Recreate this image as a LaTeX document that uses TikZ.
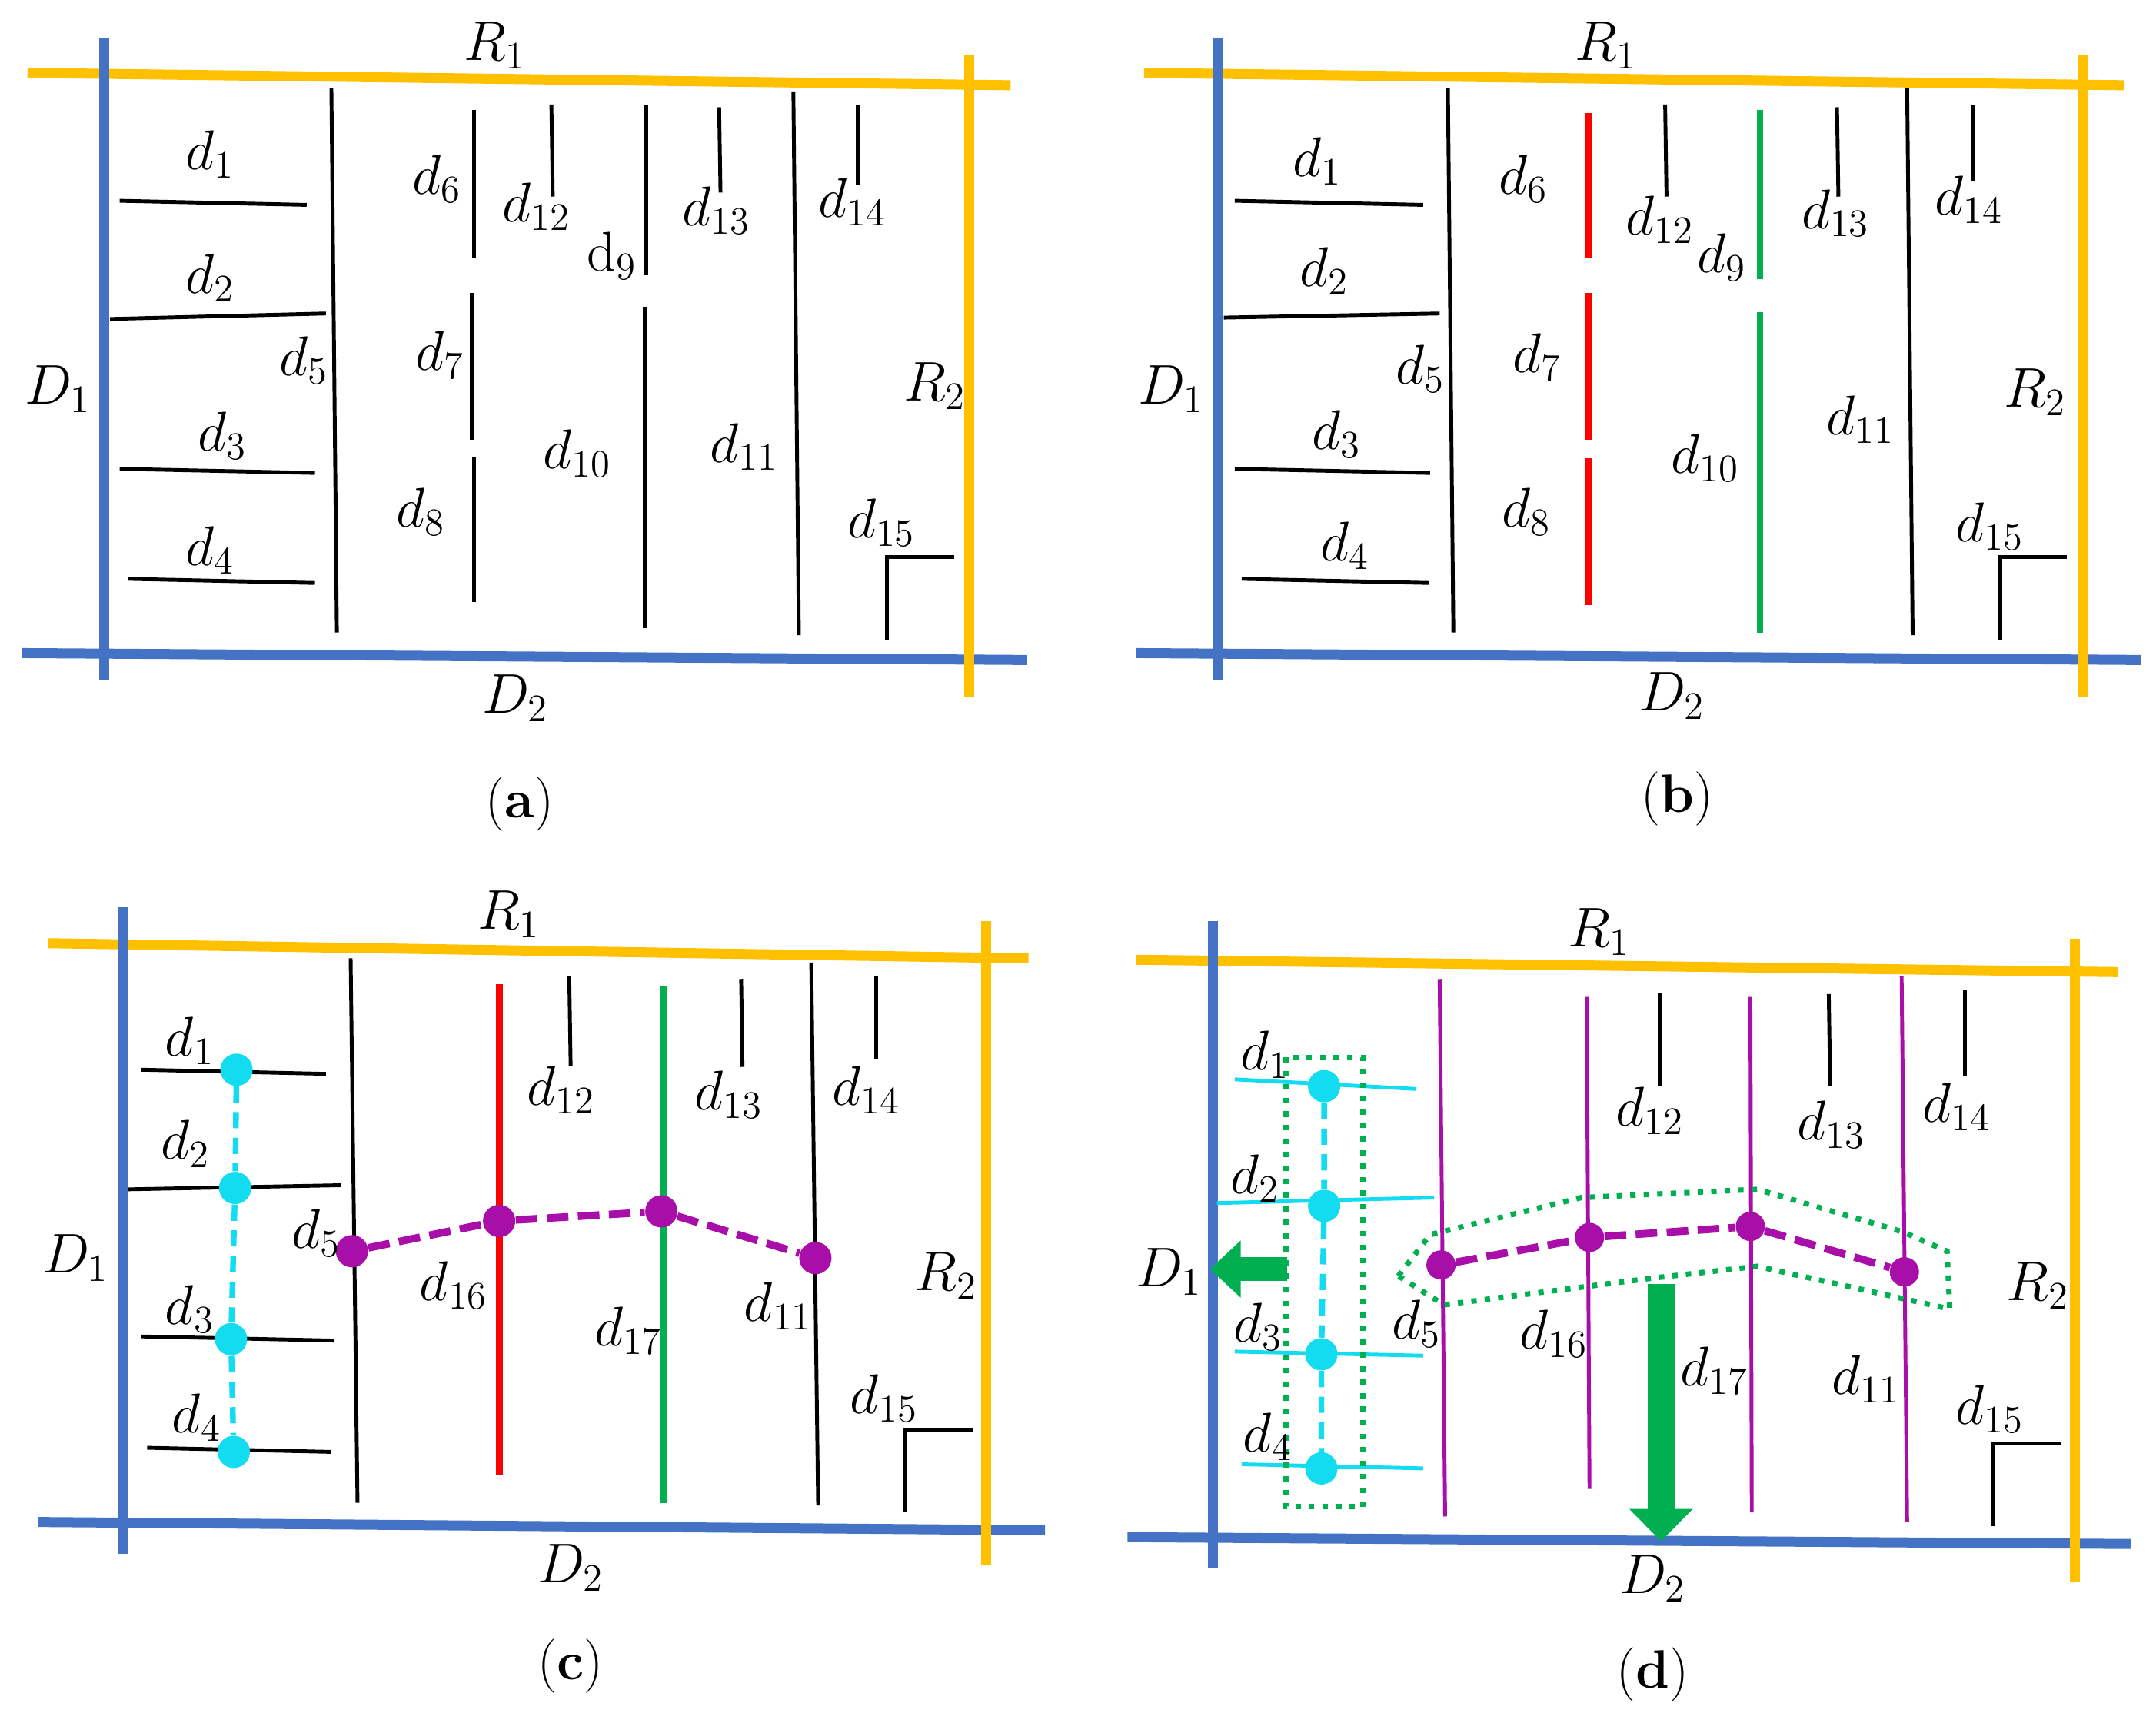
\documentclass[tikz,border=0pt]{standalone}
\usepackage{amsmath, amssymb}
\usepackage{tikz}
\usetikzlibrary{arrows.meta}

\definecolor{wallblue}{HTML}{4472C4}
\definecolor{wallyellow}{HTML}{FFC000}
\definecolor{linered}{HTML}{FF0000}
\definecolor{linegreen}{HTML}{00B050}
\definecolor{dotcyan}{HTML}{14DCF0}
\definecolor{dotpurple}{HTML}{A80EA8}

\begin{document}
\begin{tikzpicture}[
        x=0.017883cm, y=-0.017883cm,
        wallD/.style={draw=wallblue, line width=3.7pt},
        wallR/.style={draw=wallyellow, line width=3.7pt},
        seg/.style={draw=black, line width=1.4pt},
        hiseg/.style={line width=2.5pt},
        thinseg/.style={draw=dotpurple, line width=1.4pt},
        lbl/.style={font=\fontsize{21}{24}\selectfont, inner sep=0pt},
        caption/.style={font=\fontsize{20}{24}\selectfont, inner sep=0pt},
        cdot/.style={circle, fill=dotcyan, minimum size=0.42cm, inner sep=0pt},
        pdot/.style={circle, fill=dotpurple, minimum size=0.42cm, inner sep=0pt},
        cyanlink/.style={draw=dotcyan, line width=2.1pt, dash pattern=on 6pt off 3.5pt},
        purplelink/.style={draw=dotpurple, line width=2.8pt, dash pattern=on 8pt off 3.5pt},
        grouping/.style={draw=linegreen, line width=2pt, dash pattern=on 2pt off 3pt},
        >=Stealth
    ]
        \useasboundingbox (0,0) rectangle (1568,1253);

        % ---------------- Panel (a) ----------------
        \draw[wallR] (20,53) -- (735,62);
        \draw[wallD] (76,28) -- (76,495);
        \draw[wallD] (16,475) -- (747,480);
        \draw[wallR] (705,40) -- (705,507);

        \draw[seg] (87,146) -- (223,149);
        \draw[seg] (80,232) -- (237,228);
        \draw[seg] (87,341) -- (229,344);
        \draw[seg] (93,421) -- (229,424);
        \draw[seg] (241,64) -- (245,460);
        \draw[seg] (345,80) -- (345,188);
        \draw[seg] (343,213) -- (343,320);
        \draw[seg] (345,332) -- (345,438);
        \draw[seg] (401,76) -- (402,143);
        \draw[seg] (470,76) -- (470,200);
        \draw[seg] (469,223) -- (469,457);
        \draw[seg] (523,78) -- (524,140);
        \draw[seg] (577,67) -- (581,462);
        \draw[seg] (624,76) -- (624,135);
        \draw[seg] (645,465) -- (645,405) -- (694,405);

        \node[lbl] (a-R1) at (360,33) {$R_{1}$};
        \node[lbl] (a-D1) at (42,283) {$D_{1}$};
        \node[lbl] (a-D2) at (375,508) {$D_{2}$};
        \node[lbl] (a-R2) at (680,281) {$R_{2}$};
        \node[lbl] (a-d1) at (153,112) {$d_{1}$};
        \node[lbl] (a-d2) at (153,202) {$d_{2}$};
        \node[lbl] (a-d3) at (162,317) {$d_{3}$};
        \node[lbl] (a-d4) at (153,400) {$d_{4}$};
        \node[lbl] (a-d5) at (221,262) {$d_{5}$};
        \node[lbl] (a-d6) at (318,130) {$d_{6}$};
        \node[lbl] (a-d7) at (320,258) {$d_{7}$};
        \node[lbl] (a-d8) at (306,372) {$d_{8}$};
        \node[lbl] (a-d12) at (390,150) {$d_{12}$};
        \node[lbl] (a-d9) at (445,186) {$\mathrm{d}_{9}$};
        \node[lbl] (a-d10) at (420,330) {$d_{10}$};
        \node[lbl] (a-d13) at (521,153) {$d_{13}$};
        \node[lbl] (a-d11) at (541,325) {$d_{11}$};
        \node[lbl] (a-d14) at (620,147) {$d_{14}$};
        \node[lbl] (a-d15) at (641,380) {$d_{15}$};
        \node[caption] (a-cap) at (378,585) {(\textbf{a})};

        % ---------------- Panel (b) ----------------
        \draw[wallR] (832,53) -- (1545,62);
        \draw[wallD] (886,28) -- (886,495);
        \draw[wallD] (826,475) -- (1557,480);
        \draw[wallR] (1515,40) -- (1515,507);

        \draw[seg] (898,146) -- (1035,149);
        \draw[seg] (890,231) -- (1047,228);
        \draw[seg] (898,341) -- (1040,344);
        \draw[seg] (903,421) -- (1039,424);
        \draw[seg] (1053,64) -- (1057,460);
        \draw[seg, hiseg, draw=linered] (1155,82) -- (1155,188);
        \draw[seg, hiseg, draw=linered] (1155,213) -- (1155,320);
        \draw[seg, hiseg, draw=linered] (1155,333) -- (1155,440);
        \draw[seg] (1211,76) -- (1212,143);
        \draw[seg, hiseg, draw=linegreen] (1280,80) -- (1280,203);
        \draw[seg, hiseg, draw=linegreen] (1280,227) -- (1280,460);
        \draw[seg] (1336,78) -- (1337,143);
        \draw[seg] (1387,64) -- (1391,462);
        \draw[seg] (1435,76) -- (1435,132);
        \draw[seg] (1455,465) -- (1455,405) -- (1503,405);

        \node[lbl] (b-R1) at (1168,33) {$R_{1}$};
        \node[lbl] (b-D1) at (852,283) {$D_{1}$};
        \node[lbl] (b-D2) at (1216,506) {$D_{2}$};
        \node[lbl] (b-R2) at (1480,285) {$R_{2}$};
        \node[lbl] (b-d1) at (958,117) {$d_{1}$};
        \node[lbl] (b-d2) at (963,197) {$d_{2}$};
        \node[lbl] (b-d3) at (972,316) {$d_{3}$};
        \node[lbl] (b-d4) at (978,397) {$d_{4}$};
        \node[lbl] (b-d5) at (1033,268) {$d_{5}$};
        \node[lbl] (b-d6) at (1108,130) {$d_{6}$};
        \node[lbl] (b-d7) at (1118,260) {$d_{7}$};
        \node[lbl] (b-d8) at (1110,372) {$d_{8}$};
        \node[lbl] (b-d12) at (1207,160) {$d_{12}$};
        \node[lbl] (b-d9) at (1252,187) {$d_{9}$};
        \node[lbl] (b-d10) at (1240,333) {$d_{10}$};
        \node[lbl] (b-d13) at (1335,155) {$d_{13}$};
        \node[lbl] (b-d11) at (1353,305) {$d_{11}$};
        \node[lbl] (b-d14) at (1432,145) {$d_{14}$};
        \node[lbl] (b-d15) at (1447,383) {$d_{15}$};
        \node[caption] (b-cap) at (1220,581) {(\textbf{b})};

        % ---------------- Panel (c) ----------------
        \draw[wallR] (35,686) -- (748,697);
        \draw[wallD] (90,660) -- (90,1130);
        \draw[wallD] (28,1107) -- (760,1113);
        \draw[wallR] (717,670) -- (717,1138);

        \draw[seg] (103,778) -- (237,781);
        \draw[seg] (93,865) -- (248,862);
        \draw[seg] (103,972) -- (243,975);
        \draw[seg] (107,1053) -- (241,1056);
        \draw[seg] (255,697) -- (260,1093);
        \draw[seg, hiseg, draw=linered] (363,716) -- (363,1073);
        \draw[seg] (414,710) -- (415,775);
        \draw[seg, hiseg, draw=linegreen] (483,717) -- (483,1093);
        \draw[seg] (539,712) -- (540,776);
        \draw[seg] (590,700) -- (595,1095);
        \draw[seg] (637,710) -- (637,770);
        \draw[seg] (658,1100) -- (658,1040) -- (708,1040);

        \node[cdot] (c-p1) at (172,778) {};
        \node[cdot] (c-p2) at (171,864) {};
        \node[cdot] (c-p3) at (168,974) {};
        \node[cdot] (c-p4) at (170,1056) {};
        \draw[cyanlink] (c-p1) -- (c-p2) -- (c-p3) -- (c-p4);

        \node[pdot] (c-q5) at (256,910) {};
        \node[pdot] (c-q16) at (363,888) {};
        \node[pdot] (c-q17) at (481,881) {};
        \node[pdot] (c-q11) at (593,915) {};
        \draw[purplelink] (c-q5) -- (c-q16) -- (c-q17) -- (c-q11);

        \node[lbl] (c-R1) at (370,665) {$R_{1}$};
        \node[lbl] (c-D1) at (55,915) {$D_{1}$};
        \node[lbl] (c-D2) at (415,1140) {$D_{2}$};
        \node[lbl] (c-R2) at (688,928) {$R_{2}$};
        \node[lbl] (c-d1) at (138,757) {$d_{1}$};
        \node[lbl] (c-d2) at (135,832) {$d_{2}$};
        \node[lbl] (c-d3) at (138,952) {$d_{3}$};
        \node[lbl] (c-d4) at (143,1031) {$d_{4}$};
        \node[lbl] (c-d5) at (230,897) {$d_{5}$};
        \node[lbl] (c-d16) at (330,935) {$d_{16}$};
        \node[lbl] (c-d12) at (408,793) {$d_{12}$};
        \node[lbl] (c-d17) at (457,968) {$d_{17}$};
        \node[lbl] (c-d13) at (530,796) {$d_{13}$};
        \node[lbl] (c-d11) at (566,950) {$d_{11}$};
        \node[lbl] (c-d14) at (630,793) {$d_{14}$};
        \node[lbl] (c-d15) at (643,1017) {$d_{15}$};
        \node[caption] (c-cap) at (415,1212) {(\textbf{c})};

        % ---------------- Panel (d) ----------------
        \draw[wallR] (826,698) -- (1540,707);
        \draw[wallD] (882,670) -- (882,1140);
        \draw[wallD] (820,1118) -- (1550,1123);
        \draw[wallR] (1509,683) -- (1509,1150);

        \draw[seg, draw=dotcyan] (898,785) -- (1030,792);
        \draw[seg, draw=dotcyan] (885,875) -- (1043,871);
        \draw[seg, draw=dotcyan] (898,983) -- (1035,986);
        \draw[seg, draw=dotcyan] (903,1065) -- (1035,1068);
        \draw[thinseg] (1047,712) -- (1051,1103);
        \draw[thinseg] (1154,725) -- (1156,1083);
        \draw[thinseg] (1273,725) -- (1274,1100);
        \draw[thinseg] (1383,710) -- (1387,1107);
        \draw[seg] (1207,722) -- (1207,790);
        \draw[seg] (1330,723) -- (1331,790);
        \draw[seg] (1429,720) -- (1429,783);
        \draw[seg] (1449,1110) -- (1449,1050) -- (1499,1050);

        % grouping outlines
        \draw[grouping] (935,769) rectangle (991,1096);
        \draw[grouping] (1017,928) -- (1040,898) -- (1150,871) -- (1278,865)
            -- (1384,896) -- (1416,910) -- (1418,952) -- (1278,921)
            -- (1198,930) -- (1050,949) -- cycle;

        \node[cdot] (d-p1) at (963,790) {};
        \node[cdot] (d-p2) at (963,877) {};
        \node[cdot] (d-p3) at (961,985) {};
        \node[cdot] (d-p4) at (961,1068) {};
        \draw[cyanlink] (d-p1) -- (d-p2) -- (d-p3) -- (d-p4);

        \node[pdot, minimum size=0.38cm] (d-q5) at (1048,920) {};
        \node[pdot, minimum size=0.38cm] (d-q16) at (1156,900) {};
        \node[pdot, minimum size=0.38cm] (d-q17) at (1273,892) {};
        \node[pdot, minimum size=0.38cm] (d-q11) at (1385,925) {};
        \draw[purplelink] (d-q5) -- (d-q16) -- (d-q17) -- (d-q11);

        % merge directions
        \coordinate (d-left0) at (936,923);
        \coordinate (d-left1) at (880,923);
        \coordinate (d-down0) at (1208,934);
        \coordinate (d-down1) at (1208,1121);
        \draw[linegreen, line width=9pt, -{Triangle[width=0.72cm, length=0.4cm]}] (d-left0) -- (d-left1);
        \draw[linegreen, line width=10pt, -{Triangle[width=0.8cm, length=0.42cm]}] (d-down0) -- (d-down1);

        \node[lbl] (d-R1) at (1163,678) {$R_{1}$};
        \node[lbl] (d-D1) at (850,925) {$D_{1}$};
        \node[lbl] (d-D2) at (1202,1148) {$D_{2}$};
        \node[lbl] (d-R2) at (1482,935) {$R_{2}$};
        \node[lbl] (d-d1) at (920,767) {$d_{1}$};
        \node[lbl] (d-d2) at (913,857) {$d_{2}$};
        \node[lbl] (d-d3) at (915,965) {$d_{3}$};
        \node[lbl] (d-d4) at (922,1045) {$d_{4}$};
        \node[lbl] (d-d5) at (1030,963) {$d_{5}$};
        \node[lbl] (d-d16) at (1130,970) {$d_{16}$};
        \node[lbl] (d-d12) at (1200,808) {$d_{12}$};
        \node[lbl] (d-d17) at (1247,997) {$d_{17}$};
        \node[lbl] (d-d13) at (1332,818) {$d_{13}$};
        \node[lbl] (d-d11) at (1357,1003) {$d_{11}$};
        \node[lbl] (d-d14) at (1423,805) {$d_{14}$};
        \node[lbl] (d-d15) at (1447,1025) {$d_{15}$};
        \node[caption] (d-cap) at (1202,1218) {(\textbf{d})};
    \end{tikzpicture}
\end{document}
